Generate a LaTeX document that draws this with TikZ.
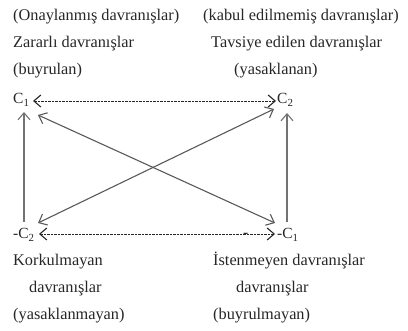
\documentclass[tikz,border=0pt]{standalone}
\usepackage{fontspec}
\setmainfont{Liberation Serif}
\usetikzlibrary{arrows.meta}
\tikzset{
  lbl/.style={anchor=base west, inner sep=0pt, font=\fontsize{16.3}{18}\selectfont, text=black!85},
  sym/.style={anchor=base west, inner sep=0pt, font=\fontsize{15.5}{17}\selectfont, text=black!85},
  solidarr/.style={draw=black!65, line width=1.1pt, {Straight Barb[length=7pt,width=12pt]}-{Straight Barb[length=7pt,width=12pt]}},
  uparr/.style={draw=black!55, line width=1.1pt, -{Straight Barb[length=7pt,width=12pt]}},
  dasharr/.style={draw=black!85, line width=0.75pt, dash pattern=on 2.2pt off 1.3pt, {Straight Barb[length=7pt,width=12pt,line width=1.1pt]}-{Straight Barb[length=7pt,width=12pt,line width=1.1pt]}}
}
\begin{document}
\begin{tikzpicture}[x=1pt,y=-1pt]
\useasboundingbox (0,0) rectangle (408,331);
% top texts
\node[lbl] (t1) at (13,21) {(Onaylanmış davranışlar)};
\node[lbl] (t2) at (203,21) {(kabul edilmemiş davranışlar)};
\node[lbl] (t3) at (13,48) {Zararlı davranışlar};
\node[lbl] (t4) at (211,48) {Tavsiye edilen davranışlar};
\node[lbl] (t5) at (13,75) {(buyrulan)};
\node[lbl] (t6) at (234,75) {(yasaklanan)};
% symbols
\node[sym] (c1) at (13,104) {C\textsubscript{1}};
\node[sym] (c2) at (277,104) {C\textsubscript{2}};
\node[sym] (mc2) at (13,239) {-C\textsubscript{2}};
\node[sym] (mc1) at (277,239) {-C\textsubscript{1}};
\node[sym] (dash) at (243,238) {-};
% bottom texts
\node[lbl] (b1) at (13,266) {Korkulmayan};
\node[lbl] (b2) at (213,266) {İstenmeyen davranışlar};
\node[lbl] (b3) at (29,293) {davranışlar};
\node[lbl] (b4) at (236,293) {davranışlar};
\node[lbl] (b5) at (13,320) {(yasaklanmayan)};
\node[lbl] (b6) at (213,320) {(buyrulmayan)};
% connector end points
\coordinate (c1r) at (33,101);
\coordinate (c2l) at (276,101);
\coordinate (mc2r) at (39,234);
\coordinate (mc1l) at (275,234);
\coordinate (c1d) at (24,112);
\coordinate (mc2u) at (24,222);
\coordinate (c2d) at (287,113);
\coordinate (mc1u) at (287,222);
\coordinate (c1x) at (38,115);
\coordinate (mc1x) at (275,223);
\coordinate (mc2x) at (38,223);
\coordinate (c2x) at (274,109);
% connectors
\draw[dasharr] (c1r) -- (c2l);
\draw[dasharr] (mc2r) -- (mc1l);
\draw[uparr] (mc2u) -- (c1d);
\draw[uparr] (mc1u) -- (c2d);
\draw[solidarr] (c1x) -- (mc1x);
\draw[solidarr] (mc2x) -- (c2x);
\end{tikzpicture}
\end{document}
